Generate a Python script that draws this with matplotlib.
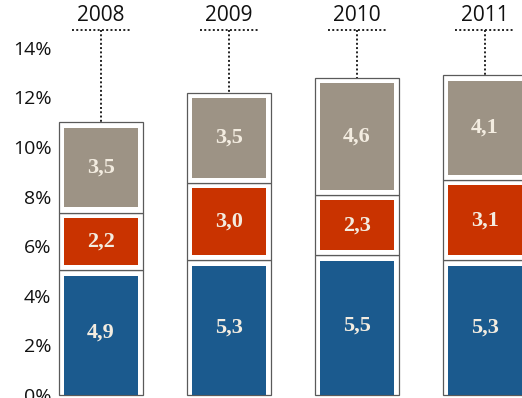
import matplotlib
matplotlib.use("Agg")
from matplotlib import pyplot as plt

# data
years = ["2008", "2009", "2010", "2011"]
blue_vals = [4.9, 5.3, 5.5, 5.3]
red_vals = [2.2, 3.0, 2.3, 3.1]
gray_vals = [3.5, 3.5, 4.6, 4.1]
y_ticks = [0, 2, 4, 6, 8, 10, 12, 14]

colors = ["#1b5a8e", "#c93300", "#9d9385"]
label_color = "#f3ece0"

fig = plt.figure(figsize=(5.22, 3.98), dpi=100)
ax = fig.add_axes([0, 0, 1, 1])
ax.set_xlim(-0.79, 3.29)
ax.set_ylim(-0.12, 15.93)
for s in ax.spines.values():
    s.set_visible(False)
ax.set_xticks([])

# y tick labels drawn inside the axes
ax.set_yticks(y_ticks)
ax.set_yticklabels([f"{t}%" for t in y_ticks], fontsize=14, family="Open Sans",
                   fontweight="medium", color="#111111")
ax.tick_params(axis="y", length=0, pad=-37)

bar_w = 0.656
pad_x = 0.04
pad_y = 0.21
cell_extra = 0.13   # visual padding the original adds to every cell

x = list(range(len(years)))
bottoms = [0.0] * len(years)
for k, (vals, col) in enumerate(zip([blue_vals, red_vals, gray_vals], colors)):
    heights = [v + cell_extra for v in vals]
    # white cell with a thin outline
    ax.bar(x, heights, width=bar_w, bottom=bottoms, color="white",
           edgecolor="#5a5a5a", linewidth=0.9, zorder=2)
    # coloured fill inset inside the cell (bottom segment runs to the edge)
    low = 0 if k == 0 else pad_y
    inner_b = [b + low for b in bottoms]
    inner_h = [h - low - pad_y for h in heights]
    ax.bar(x, inner_h, width=bar_w - 2 * pad_x, bottom=inner_b, color=col,
           linewidth=0, zorder=3)
    for xi, b, h, v in zip(x, bottoms, heights, vals):
        ax.text(xi, b + h / 2, f"{v:.1f}".replace(".", ","), ha="center", va="center",
                fontsize=16, family="Liberation Serif", fontweight="bold",
                color=label_color, zorder=4)
    bottoms = [b + h for b, h in zip(bottoms, heights)]

# year labels with dotted leaders
line_y = 14.72
for xi, yr, top in zip(x, years, bottoms):
    ax.text(xi, 15.3, yr, ha="center", va="center", fontsize=15,
            family="Open Sans", fontweight="medium", color="#111111")
    ax.plot([xi - 0.23, xi + 0.23], [line_y, line_y], color="#222222",
            linestyle=(0, (1, 1.2)), linewidth=1.4)
    ax.plot([xi, xi], [line_y, top], color="#222222",
            linestyle=(0, (1, 1.2)), linewidth=1.4)

fig.savefig("out.png", dpi=100)
